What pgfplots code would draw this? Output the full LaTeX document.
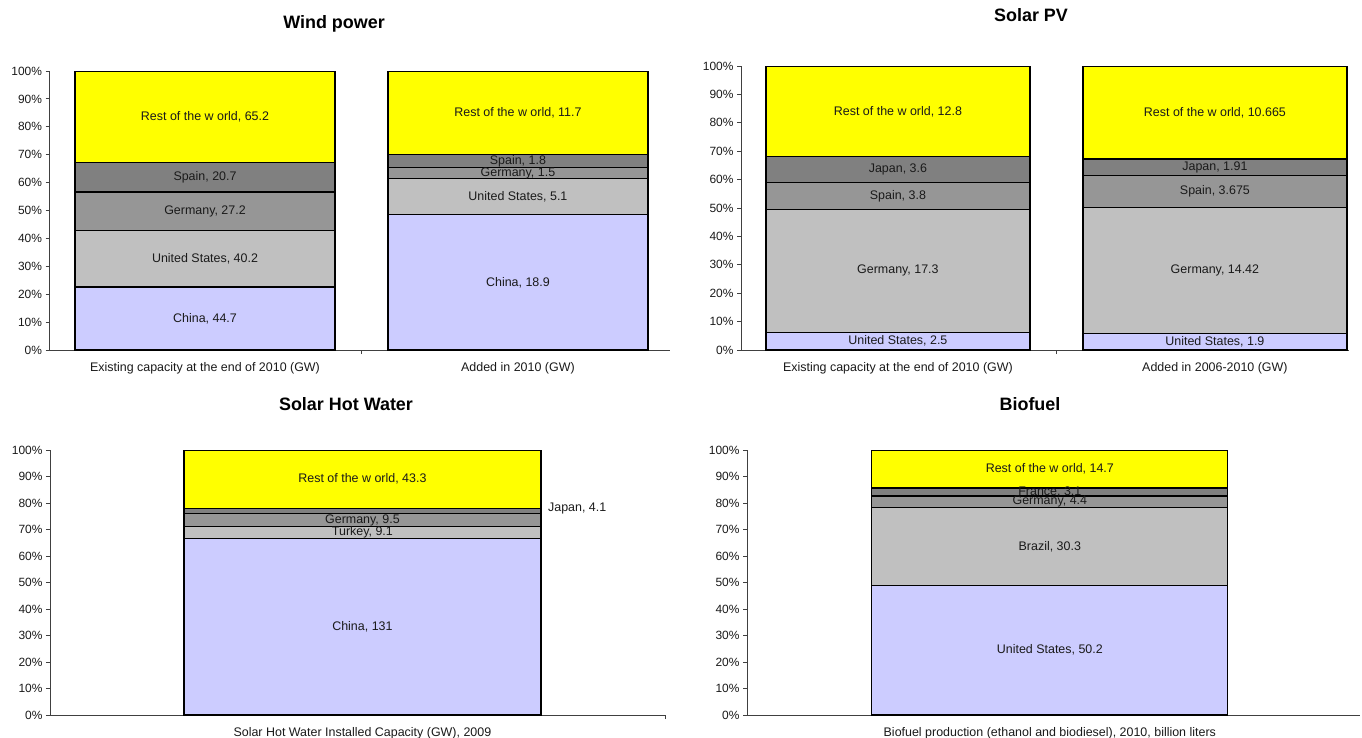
\documentclass[border=0pt]{standalone}
\usepackage{pgfplots}
\pgfplotsset{compat=1.18}
\usepackage{pgfplotstable}
\usepackage{fontspec}
\setmainfont{Liberation Sans}

\definecolor{cLav}{HTML}{CCCCFF}
\definecolor{cSil}{HTML}{C0C0C0}
\definecolor{cMid}{HTML}{969696}
\definecolor{cDark}{HTML}{808080}
\definecolor{cYel}{HTML}{FFFF00}
\definecolor{cAxis}{HTML}{404040}
\definecolor{cText}{HTML}{1A1A1A}

% segments a..e from bottom to top; values in the units of each panel
\pgfplotstableread{
x a b c d e
0 44.7 40.2 27.2 20.7 65.2
1 18.9 5.1 1.5 1.8 11.7
}\windtab
\pgfplotstableread{
x a b c d e
0 2.5 17.3 3.8 3.6 12.8
1 1.9 14.42 3.675 1.91 10.665
}\pvtab
\pgfplotstableread{
x a b c d e
0 131 9.1 9.5 4.1 43.3
}\shwtab
\pgfplotstableread{
x a b c d e
0 50.2 30.3 4.4 3.1 14.7
}\biotab

\newcommand\tot{(\thisrow{a}+\thisrow{b}+\thisrow{c}+\thisrow{d}+\thisrow{e})}
\newcommand\lblfont{\fontsize{12.5}{14}\selectfont}

\pgfplotsset{
  % geometry of the four panels
  p1/.style={at={(49.5bp,-350bp)}, anchor=south west, width=620.5bp, height=279bp,
    xmin=-0.497, xmax=1.486},
  p2/.style={at={(741bp,-350bp)}, anchor=south west, width=608bp, height=284bp,
    xmin=-0.495, xmax=1.423},
  p3/.style={at={(50bp,-715bp)}, anchor=south west, width=615bp, height=265bp,
    xmin=-0.508, xmax=0.492},
  p4/.style={at={(747bp,-715bp)}, anchor=south west, width=613bp, height=265bp,
    xmin=-0.494, xmax=0.506},
  share/.style={
    scale only axis,
    axis lines=left,
    axis line style={-, draw=cAxis, line width=0.9bp},
    ybar stacked,
    ymin=0, ymax=100,
    ytick={0,10,...,100},
    yticklabel={\pgfmathprintnumber{\tick}\%},
    /pgf/number format/assume math mode=true,
    tick align=outside,
    major tick length=4bp,
    tick style={draw=cAxis, line width=0.9bp},
    yticklabel style={font=\fontsize{12}{14}\selectfont, text=cText},
    xticklabels={},
    extra x tick style={major tick length=0pt,
      tick label style={font=\lblfont, text=cText, yshift=-9bp}},
  },
  % transparent axis on top of a panel that carries the segment labels
  lbl/.style={
    scale only axis, hide axis, clip=false,
    ymin=0, ymax=100,
  },
}

% one stacked segment: column, fill colour, table
\newcommand\segment[3]{%
  \addplot[fill=#2, draw=black, line width=1.2bp]
    table[x=x, y expr=100*\thisrow{#1}/\tot] {#3};
}
% label of a segment, set at its middle: [options] sum below, column, name, table
\newcommand\seglabel[5][]{%
  \addplot[only marks, mark=*, mark size=0pt, point meta=\thisrow{#3},
    nodes near coords={#4, \pgfmathprintnumber[precision=3, assume math mode=true]{\pgfplotspointmeta}},
    every node near coord/.append style={anchor=center, font=\lblfont,
      text=cText, inner sep=0pt}, #1]
    table[x=x, y expr=100*(#2+0.5*\thisrow{#3})/\tot] {#5};
}

\begin{document}
\begin{tikzpicture}
\useasboundingbox (0bp,0bp) rectangle (1362bp,-738bp);

\node[anchor=base, font=\bfseries\fontsize{18}{20}\selectfont] at (334bp,-28bp) {Wind power};
\node[anchor=base, font=\bfseries\fontsize{18}{20}\selectfont] at (1031bp,-21bp) {Solar PV};
\node[anchor=base, font=\bfseries\fontsize{18}{20}\selectfont] at (346bp,-410bp) {Solar Hot Water};
\node[anchor=base, font=\bfseries\fontsize{18}{20}\selectfont] at (1030bp,-410bp) {Biofuel};

% Wind power
\begin{axis}[share, p1, bar width=260bp,
  xtick={0.5},
  extra x ticks={0,1},
  extra x tick labels={Existing capacity at the end of 2010 (GW), Added in 2010 (GW)}]
  \segment{a}{cLav}{\windtab}
  \segment{b}{cSil}{\windtab}
  \segment{c}{cMid}{\windtab}
  \segment{d}{cDark}{\windtab}
  \segment{e}{cYel}{\windtab}
\end{axis}
\begin{axis}[lbl, p1]
  \seglabel{0}{a}{China}{\windtab}
  \seglabel{\thisrow{a}}{b}{United States}{\windtab}
  \seglabel{\thisrow{a}+\thisrow{b}}{c}{Germany}{\windtab}
  \seglabel{\thisrow{a}+\thisrow{b}+\thisrow{c}}{d}{Spain}{\windtab}
  \seglabel{\thisrow{a}+\thisrow{b}+\thisrow{c}+\thisrow{d}}{e}{Rest of the w orld}{\windtab}
\end{axis}

% Solar PV
\begin{axis}[share, p2, bar width=264bp,
  xtick={0.5},
  extra x ticks={0,1},
  extra x tick labels={Existing capacity at the end of 2010 (GW), Added in 2006-2010 (GW)}]
  \segment{a}{cLav}{\pvtab}
  \segment{b}{cSil}{\pvtab}
  \segment{c}{cMid}{\pvtab}
  \segment{d}{cDark}{\pvtab}
  \segment{e}{cYel}{\pvtab}
\end{axis}
\begin{axis}[lbl, p2]
  \seglabel{0}{a}{United States}{\pvtab}
  \seglabel{\thisrow{a}}{b}{Germany}{\pvtab}
  \seglabel{\thisrow{a}+\thisrow{b}}{c}{Spain}{\pvtab}
  \seglabel{\thisrow{a}+\thisrow{b}+\thisrow{c}}{d}{Japan}{\pvtab}
  \seglabel{\thisrow{a}+\thisrow{b}+\thisrow{c}+\thisrow{d}}{e}{Rest of the w orld}{\pvtab}
\end{axis}

% Solar hot water
\begin{axis}[share, p3, bar width=357bp,
  xtick={0.492},
  extra x ticks={0},
  extra x tick labels={Solar Hot Water Installed Capacity (GW){,} 2009}]
  \segment{a}{cLav}{\shwtab}
  \segment{b}{cSil}{\shwtab}
  \segment{c}{cMid}{\shwtab}
  \segment{d}{cDark}{\shwtab}
  \segment{e}{cYel}{\shwtab}
\end{axis}
\begin{axis}[lbl, p3]
  \seglabel{0}{a}{China}{\shwtab}
  \seglabel{\thisrow{a}}{b}{Turkey}{\shwtab}
  \seglabel{\thisrow{a}+\thisrow{b}}{c}{Germany}{\shwtab}
  \seglabel[every node near coord/.append style={anchor=west, xshift=185.5bp, yshift=3bp}]%
    {\thisrow{a}+\thisrow{b}+\thisrow{c}}{d}{Japan}{\shwtab}
  \seglabel{\thisrow{a}+\thisrow{b}+\thisrow{c}+\thisrow{d}}{e}{Rest of the w orld}{\shwtab}
\end{axis}

% Biofuel
\begin{axis}[share, p4, bar width=356bp,
  xtick=\empty,
  extra x ticks={0},
  extra x tick labels={Biofuel production (ethanol and biodiesel){,} 2010{,} billion liters}]
  \segment{a}{cLav}{\biotab}
  \segment{b}{cSil}{\biotab}
  \segment{c}{cMid}{\biotab}
  \segment{d}{cDark}{\biotab}
  \segment{e}{cYel}{\biotab}
\end{axis}
\begin{axis}[lbl, p4]
  \seglabel{0}{a}{United States}{\biotab}
  \seglabel{\thisrow{a}}{b}{Brazil}{\biotab}
  \seglabel{\thisrow{a}+\thisrow{b}}{c}{Germany}{\biotab}
  \seglabel{\thisrow{a}+\thisrow{b}+\thisrow{c}}{d}{France}{\biotab}
  \seglabel{\thisrow{a}+\thisrow{b}+\thisrow{c}+\thisrow{d}}{e}{Rest of the w orld}{\biotab}
\end{axis}
\end{tikzpicture}
\end{document}
